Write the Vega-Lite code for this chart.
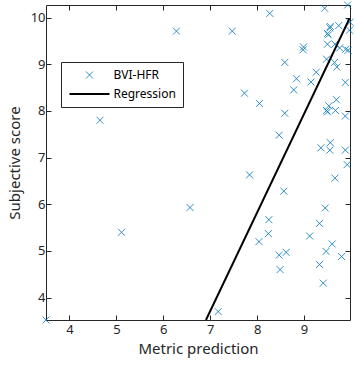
{
  "$schema": "https://vega.github.io/schema/vega-lite/v6.json",
  "width": 304,
  "height": 315,
  "autosize": {"type": "none"},
  "padding": {"left": 46, "top": 5, "right": 6, "bottom": 49},
  "config": {
    "view": {"stroke": "#262626", "strokeWidth": 1},
    "font": "Noto Sans",
    "axis": {
      "domain": false, "grid": false, "tickColor": "#262626", "tickSize": -5,
      "labelColor": "#262626", "labelFontSize": 13, "labelFont": "Noto Sans",
      "titleColor": "#262626", "titleFontSize": 15, "titleFontWeight": "normal", "titleFont": "Noto Sans"
    },
    "legend": {"title": null, "orient": "none", "legendX": 15, "legendY": 57, "direction": "vertical",
      "strokeColor": "#262626", "fillColor": "white", "padding": 7, "labelFontSize": 12, "labelFont": "Noto Sans", "labelColor": "#000000",
      "rowPadding": 7, "labelOffset": 18, "symbolOffset": 15.5, "symbolSize": 49}
  },
  "resolve": {"axis": {"x": "independent", "y": "independent"}},
  "layer": [
    {
      "data": {"values": [
        {"x": 3.50, "y": 3.52, "series": "BVI-HFR"},
        {"x": 4.65, "y": 7.80, "series": "BVI-HFR"},
        {"x": 5.11, "y": 5.40, "series": "BVI-HFR"},
        {"x": 6.28, "y": 9.71, "series": "BVI-HFR"},
        {"x": 6.57, "y": 5.93, "series": "BVI-HFR"},
        {"x": 7.47, "y": 9.71, "series": "BVI-HFR"},
        {"x": 7.17, "y": 3.70, "series": "BVI-HFR"},
        {"x": 7.73, "y": 8.38, "series": "BVI-HFR"},
        {"x": 8.05, "y": 8.16, "series": "BVI-HFR"},
        {"x": 7.84, "y": 6.63, "series": "BVI-HFR"},
        {"x": 8.27, "y": 10.09, "series": "BVI-HFR"},
        {"x": 8.04, "y": 5.20, "series": "BVI-HFR"},
        {"x": 8.25, "y": 5.67, "series": "BVI-HFR"},
        {"x": 8.24, "y": 5.37, "series": "BVI-HFR"},
        {"x": 8.57, "y": 6.28, "series": "BVI-HFR"},
        {"x": 8.47, "y": 4.91, "series": "BVI-HFR"},
        {"x": 8.62, "y": 4.97, "series": "BVI-HFR"},
        {"x": 8.49, "y": 4.60, "series": "BVI-HFR"},
        {"x": 9.66, "y": 6.56, "series": "BVI-HFR"},
        {"x": 9.45, "y": 5.92, "series": "BVI-HFR"},
        {"x": 9.33, "y": 5.59, "series": "BVI-HFR"},
        {"x": 9.12, "y": 5.32, "series": "BVI-HFR"},
        {"x": 9.60, "y": 5.15, "series": "BVI-HFR"},
        {"x": 9.47, "y": 4.99, "series": "BVI-HFR"},
        {"x": 9.80, "y": 4.88, "series": "BVI-HFR"},
        {"x": 9.33, "y": 4.71, "series": "BVI-HFR"},
        {"x": 9.41, "y": 4.31, "series": "BVI-HFR"},
        {"x": 9.44, "y": 10.20, "series": "BVI-HFR"},
        {"x": 9.93, "y": 10.27, "series": "BVI-HFR"},
        {"x": 9.56, "y": 9.81, "series": "BVI-HFR"},
        {"x": 9.55, "y": 9.78, "series": "BVI-HFR"},
        {"x": 9.74, "y": 9.83, "series": "BVI-HFR"},
        {"x": 9.50, "y": 9.66, "series": "BVI-HFR"},
        {"x": 9.52, "y": 9.63, "series": "BVI-HFR"},
        {"x": 9.98, "y": 9.90, "series": "BVI-HFR"},
        {"x": 9.97, "y": 9.73, "series": "BVI-HFR"},
        {"x": 8.99, "y": 9.37, "series": "BVI-HFR"},
        {"x": 8.98, "y": 9.31, "series": "BVI-HFR"},
        {"x": 9.50, "y": 9.43, "series": "BVI-HFR"},
        {"x": 9.66, "y": 9.43, "series": "BVI-HFR"},
        {"x": 9.76, "y": 9.35, "series": "BVI-HFR"},
        {"x": 9.89, "y": 9.32, "series": "BVI-HFR"},
        {"x": 9.94, "y": 9.30, "series": "BVI-HFR"},
        {"x": 8.59, "y": 9.04, "series": "BVI-HFR"},
        {"x": 9.48, "y": 9.11, "series": "BVI-HFR"},
        {"x": 9.65, "y": 9.04, "series": "BVI-HFR"},
        {"x": 9.70, "y": 8.94, "series": "BVI-HFR"},
        {"x": 9.26, "y": 8.83, "series": "BVI-HFR"},
        {"x": 8.84, "y": 8.69, "series": "BVI-HFR"},
        {"x": 9.15, "y": 8.62, "series": "BVI-HFR"},
        {"x": 9.88, "y": 8.61, "series": "BVI-HFR"},
        {"x": 8.78, "y": 8.45, "series": "BVI-HFR"},
        {"x": 9.69, "y": 8.24, "series": "BVI-HFR"},
        {"x": 9.53, "y": 8.11, "series": "BVI-HFR"},
        {"x": 9.48, "y": 8.01, "series": "BVI-HFR"},
        {"x": 9.50, "y": 7.98, "series": "BVI-HFR"},
        {"x": 9.67, "y": 8.01, "series": "BVI-HFR"},
        {"x": 9.88, "y": 7.89, "series": "BVI-HFR"},
        {"x": 8.59, "y": 7.95, "series": "BVI-HFR"},
        {"x": 8.47, "y": 7.48, "series": "BVI-HFR"},
        {"x": 9.36, "y": 7.21, "series": "BVI-HFR"},
        {"x": 9.56, "y": 7.32, "series": "BVI-HFR"},
        {"x": 9.55, "y": 7.16, "series": "BVI-HFR"},
        {"x": 9.88, "y": 7.16, "series": "BVI-HFR"},
        {"x": 9.92, "y": 6.85, "series": "BVI-HFR"}
      ]},
      "mark": {"type": "point", "filled": false, "clip": false, "opacity": 1, "size": 49},
      "encoding": {
        "x": {"field": "x", "type": "quantitative",
          "scale": {"domain": [3.5, 9.98], "nice": false, "zero": false},
          "axis": {"orient": "bottom", "title": "Metric prediction", "values": [4, 5, 6, 7, 8, 9], "labelPadding": 8, "titlePadding": 5}},
        "y": {"field": "y", "type": "quantitative",
          "scale": {"domain": [3.52, 10.27], "nice": false, "zero": false},
          "axis": {"orient": "left", "title": "Subjective score", "values": [4, 5, 6, 7, 8, 9, 10], "labelPadding": 6, "titlePadding": 8}},
        "color": {"field": "series", "type": "nominal",
          "scale": {"domain": ["BVI-HFR", "Regression"], "range": ["#0072BD", "#000000"]}},
        "shape": {"field": "series", "type": "nominal",
          "scale": {"domain": ["BVI-HFR", "Regression"], "range": ["M-1,-1L1,1M-1,1L1,-1", "M-5.714,0L5.714,0"]}},
        "strokeWidth": {"field": "series", "type": "nominal",
          "scale": {"type": "ordinal", "domain": ["BVI-HFR", "Regression"], "range": [0.8, 2]}}
      }
    },
    {
      "data": {"values": [
        {"x": 6.91, "y": 3.52, "series": "Regression"},
        {"x": 9.97, "y": 9.98, "series": "Regression"}
      ]},
      "mark": {"type": "line", "strokeWidth": 2, "clip": true},
      "encoding": {
        "x": {"field": "x", "type": "quantitative",
          "axis": {"orient": "top", "title": null, "labels": false, "values": [4, 5, 6, 7, 8, 9]}},
        "y": {"field": "y", "type": "quantitative",
          "axis": {"orient": "right", "title": null, "labels": false, "values": [4, 5, 6, 7, 8, 9, 10]}},
        "color": {"field": "series", "type": "nominal"}
      }
    }
  ]
}
